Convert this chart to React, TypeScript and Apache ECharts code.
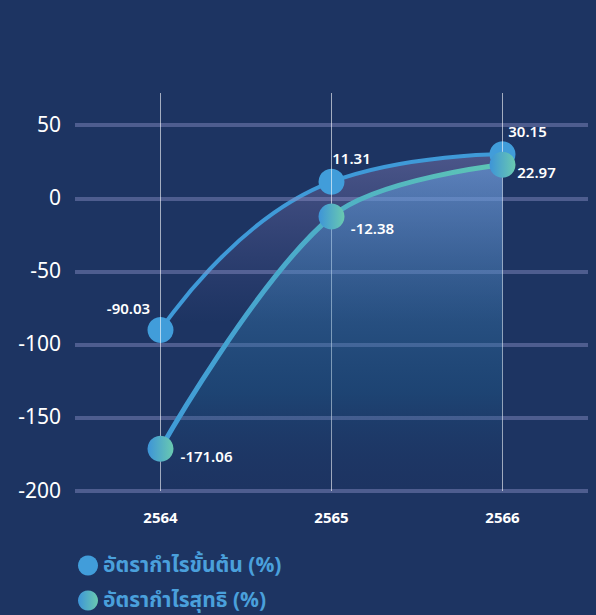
import React, { useEffect, useRef } from "react";
import * as echarts from "echarts";

const categories = ["2564", "2565", "2566"];
const grossMargin = [-90.03, 11.31, 30.15];
const netMargin = [-171.06, -12.38, 22.97];
const yTicks = [-200, -150, -100, -50, 0, 50];
const seriesNames = ["อัตรากำไรขั้นต้น (%)", "อัตรากำไรสุทธิ (%)"];

const grossOffsets = [[-32, -21], [20, -22], [25, -22]];
const netOffsets = [[46, 9], [41, 13], [34, 9]];

const BG = "#1d3462";
const FONT = "'Noto Sans Thai', 'Noto Sans', 'Open Sans', sans-serif";

export default function App() {
  const ref = useRef<HTMLDivElement>(null);
  useEffect(() => {
    document.body.style.margin = "0";
    document.body.style.background = BG;
    if (!ref.current) return;
    const chart = echarts.init(ref.current, null, { renderer: "svg" });
    const greenGrad = new echarts.graphic.LinearGradient(0, 0, 1, 0, [
      { offset: 0, color: "#3d94d8" },
      { offset: 1, color: "#6acab0" },
    ]);
    const greenLineGrad = new echarts.graphic.LinearGradient(0, 0, 1, 0, [
      { offset: 0, color: "#3f9ad8" },
      { offset: 1, color: "#5ec6b4" },
    ]);
    const labelStyle = {
      show: true,
      position: "inside",
      color: "#ffffff",
      fontSize: 15,
      fontWeight: 600,
      fontFamily: FONT,
      align: "center",
      verticalAlign: "middle",
    };
    chart.setOption({
      animation: false,
      backgroundColor: BG,
      grid: { left: 75, right: 8, top: 93, bottom: 124, containLabel: false },
      xAxis: {
        type: "category",
        data: categories,
        boundaryGap: true,
        axisLine: { show: false },
        axisTick: { show: false },
        splitLine: { show: false },
        axisLabel: {
          color: "#ffffff",
          fontSize: 15,
          fontWeight: "bold",
          fontFamily: FONT,
          margin: 20,
        },
      },
      yAxis: {
        type: "value",
        min: -200,
        max: 72,
        interval: 50,
        axisLine: { show: false },
        axisTick: { show: false },
        splitLine: { show: false },
        axisLabel: {
          color: "#ffffff",
          fontSize: 21,
          fontFamily: FONT,
          margin: 14,
          formatter: (v: number) => (yTicks.indexOf(v) >= 0 ? String(v) : ""),
        },
      },
      legend: {
        orient: "vertical",
        left: 78,
        top: 554,
        height: 61,
        padding: 0,
        itemGap: 12,
        itemWidth: 20,
        itemHeight: 20,
        icon: "circle",
        data: seriesNames,
        textStyle: {
          color: "#4aa0dc",
          fontSize: 21,
          lineHeight: 23,
          fontWeight: "bold",
          fontFamily: FONT,
        },
      },
      series: [
        {
          type: "line",
          name: "grid",
          data: [],
          z: 1,
          silent: true,
          markLine: {
            silent: true,
            symbol: ["none", "none"],
            label: { show: false },
            animation: false,
            data: [
              ...yTicks.map((v) => ({
                yAxis: v,
                lineStyle: { color: "rgba(140,145,200,0.45)", width: 4, type: "solid" },
              })),
              ...categories.map((c) => ({
                xAxis: c,
                lineStyle: { color: "rgba(255,255,255,0.6)", width: 1, type: "solid" },
              })),
            ],
          },
        },
        {
          type: "line",
          name: seriesNames[0],
          data: grossMargin.map((v, i) => ({
            value: v,
            label: { ...labelStyle, offset: grossOffsets[i] },
          })),
          z: 4,
          smooth: 0.5,
          symbol: "circle",
          symbolSize: 26,
          showAllSymbol: true,
          lineStyle: { width: 4, color: "#3f9ad8" },
          itemStyle: { color: "#419dda" },
          areaStyle: {
            origin: "start",
            color: new echarts.graphic.LinearGradient(0, 0, 0, 1, [
              { offset: 0, color: "rgba(150,140,200,0.55)" },
              { offset: 0.5, color: "rgba(120,110,180,0)" },
              { offset: 1, color: "rgba(120,110,180,0)" },
            ]),
          },
        },
        {
          type: "line",
          name: seriesNames[1],
          data: netMargin.map((v, i) => ({
            value: v,
            label: { ...labelStyle, offset: netOffsets[i] },
          })),
          z: 5,
          smooth: 0.35,
          symbol: "circle",
          symbolSize: 26,
          showAllSymbol: true,
          lineStyle: { width: 5, color: greenLineGrad },
          itemStyle: { color: greenGrad },
          areaStyle: {
            origin: "start",
            color: new echarts.graphic.LinearGradient(0, 0, 0, 1, [
              { offset: 0, color: "rgba(110,170,235,0.75)" },
              { offset: 0.7, color: "rgba(30,105,155,0.42)" },
              { offset: 1, color: "rgba(30,60,110,0)" },
            ]),
          },
        },
      ],
    });
    return () => chart.dispose();
  }, []);
  return <div ref={ref} style={{ width: 596, height: 615 }} />;
}
